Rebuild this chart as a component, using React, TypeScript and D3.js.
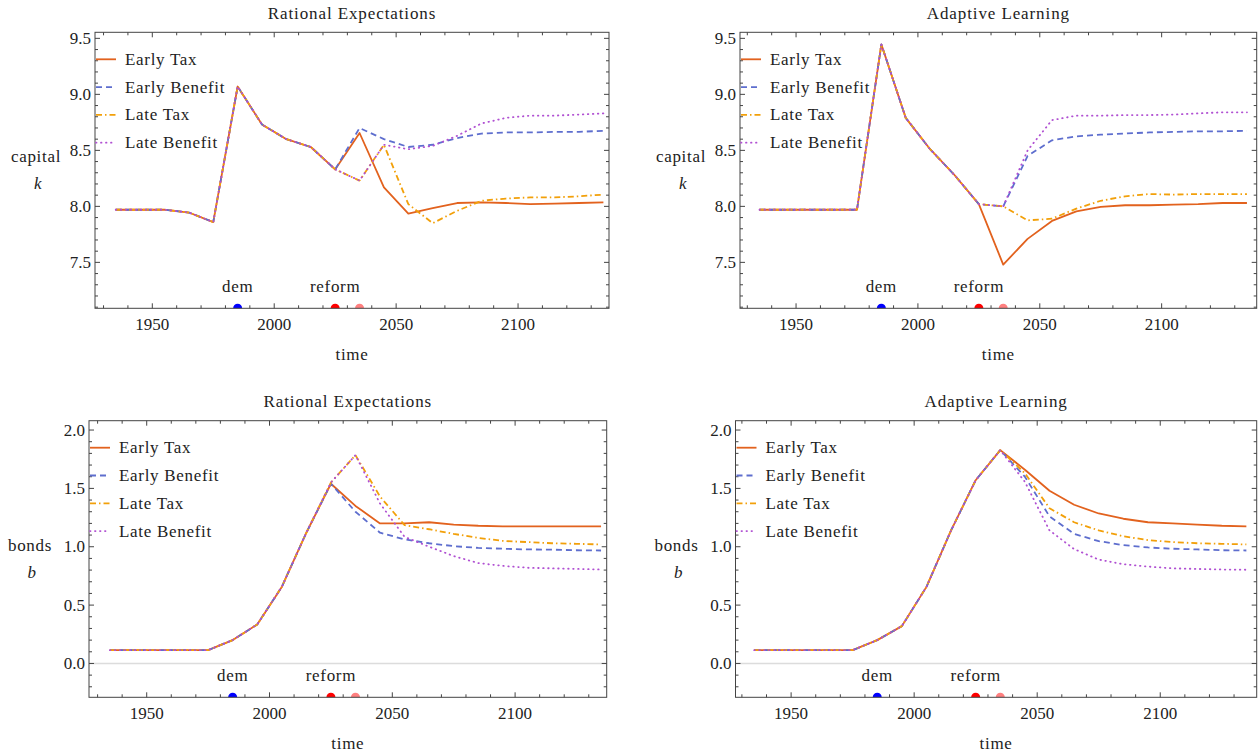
import React from 'react';
import * as d3 from 'd3';

// time points of the simulation
const years = [1935, 1945, 1955, 1965, 1975, 1985, 1995, 2005, 2015, 2025, 2035,
  2045, 2055, 2065, 2075, 2085, 2095, 2105, 2115, 2125, 2135];

// capital k, rational expectations
const reCapEarlyTax = [7.97, 7.97, 7.97, 7.945, 7.86, 9.07, 8.73, 8.6, 8.53, 8.33, 8.655,
  8.17, 7.935, 7.985, 8.03, 8.035, 8.03, 8.02, 8.025, 8.03, 8.035];
const reCapEarlyBenefit = [7.97, 7.97, 7.97, 7.945, 7.86, 9.07, 8.73, 8.6, 8.53, 8.33, 8.7,
  8.6, 8.53, 8.55, 8.61, 8.65, 8.66, 8.66, 8.665, 8.665, 8.675];
const reCapLateTax = [7.97, 7.97, 7.97, 7.945, 7.86, 9.07, 8.73, 8.6, 8.53, 8.33, 8.23,
  8.55, 8.02, 7.85, 7.96, 8.05, 8.07, 8.08, 8.08, 8.09, 8.105];
const reCapLateBenefit = [7.97, 7.97, 7.97, 7.945, 7.86, 9.07, 8.73, 8.6, 8.53, 8.33, 8.23,
  8.55, 8.51, 8.54, 8.63, 8.74, 8.79, 8.81, 8.81, 8.82, 8.83];

// capital k, adaptive learning
const alCapEarlyTax = [7.97, 7.97, 7.97, 7.97, 7.97, 9.446, 8.79, 8.51, 8.28, 8.02, 7.48,
  7.71, 7.87, 7.955, 7.995, 8.01, 8.01, 8.015, 8.02, 8.03, 8.03];
const alCapEarlyBenefit = [7.97, 7.97, 7.97, 7.97, 7.97, 9.446, 8.79, 8.51, 8.28, 8.02, 8.0,
  8.45, 8.59, 8.625, 8.64, 8.65, 8.66, 8.665, 8.67, 8.67, 8.675];
const alCapLateTax = [7.97, 7.97, 7.97, 7.97, 7.97, 9.446, 8.79, 8.51, 8.28, 8.02, 8.0,
  7.875, 7.89, 7.98, 8.05, 8.09, 8.11, 8.105, 8.11, 8.11, 8.11];
const alCapLateBenefit = [7.97, 7.97, 7.97, 7.97, 7.97, 9.446, 8.79, 8.51, 8.28, 8.02, 8.0,
  8.5, 8.77, 8.81, 8.81, 8.815, 8.815, 8.82, 8.83, 8.84, 8.84];

// bonds b, rational expectations
const reBondEarlyTax = [0.114, 0.114, 0.114, 0.114, 0.114, 0.2, 0.334, 0.656, 1.12, 1.54, 1.35,
  1.2, 1.2, 1.21, 1.19, 1.18, 1.175, 1.175, 1.175, 1.174, 1.174];
const reBondEarlyBenefit = [0.114, 0.114, 0.114, 0.114, 0.114, 0.2, 0.334, 0.656, 1.12, 1.54, 1.3,
  1.12, 1.063, 1.03, 1.005, 0.99, 0.983, 0.977, 0.975, 0.97, 0.968];
const reBondLateTax = [0.114, 0.114, 0.114, 0.114, 0.114, 0.2, 0.334, 0.656, 1.12, 1.55, 1.785,
  1.43, 1.185, 1.15, 1.11, 1.076, 1.05, 1.04, 1.03, 1.025, 1.02];
const reBondLateBenefit = [0.114, 0.114, 0.114, 0.114, 0.114, 0.2, 0.334, 0.656, 1.12, 1.55, 1.785,
  1.37, 1.085, 1.0, 0.92, 0.86, 0.836, 0.82, 0.815, 0.81, 0.805];

// bonds b, adaptive learning
const alBondEarlyTax = [0.114, 0.114, 0.114, 0.114, 0.114, 0.2, 0.32, 0.656, 1.14, 1.57, 1.828,
  1.66, 1.48, 1.36, 1.285, 1.24, 1.21, 1.2, 1.19, 1.18, 1.175];
const alBondEarlyBenefit = [0.114, 0.114, 0.114, 0.114, 0.114, 0.2, 0.32, 0.656, 1.14, 1.57, 1.828,
  1.6, 1.26, 1.11, 1.048, 1.014, 0.994, 0.983, 0.977, 0.97, 0.968];
const alBondLateTax = [0.114, 0.114, 0.114, 0.114, 0.114, 0.2, 0.32, 0.656, 1.14, 1.57, 1.828,
  1.63, 1.33, 1.21, 1.14, 1.09, 1.057, 1.04, 1.03, 1.025, 1.02];
const alBondLateBenefit = [0.114, 0.114, 0.114, 0.114, 0.114, 0.2, 0.32, 0.656, 1.14, 1.57, 1.828,
  1.556, 1.14, 0.98, 0.89, 0.85, 0.83, 0.815, 0.81, 0.805, 0.803];

const seriesNames = ['Early Tax', 'Early Benefit', 'Late Tax', 'Late Benefit'];
const xMajorTicks = [1950, 2000, 2050, 2100];
const capMajorTicks = [7.5, 8.0, 8.5, 9.0, 9.5];
const bondMajorTicks = [0.0, 0.5, 1.0, 1.5, 2.0];
const events = [
  { year: 1985, color: '#0000ff' },
  { year: 2025, color: '#ff0000' },
  { year: 2035, color: '#ff8080' },
];

const styles = [
  { color: '#e2621e', dash: undefined, cap: 'butt' },
  { color: '#5e6ece', dash: '6,4', cap: 'butt' },
  { color: '#f2a00a', dash: '6,3,1.5,3', cap: 'butt' },
  { color: '#b050d2', dash: '0.5,4.5', cap: 'round' },
];

const FONT = "'Liberation Serif', 'DejaVu Serif', serif";
const FRAME = '#444';

const Panel = ({ id, box, xDomain, yDomain, yMajor, title, ylab, yvar, series, zero }) => {
  const x = d3.scaleLinear().domain(xDomain).range([box.left, box.right]);
  const y = d3.scaleLinear().domain(yDomain).range([box.bottom, box.top]);
  const line = d3.line<number>().x((d, i) => x(years[i])).y((d) => y(d));
  const fmt = d3.format('.1f');

  const xMinor = d3.range(1930, 2140, 10).filter((v) => !xMajorTicks.includes(v));
  const yMinor = d3.range(Math.ceil(yDomain[0] * 10), Math.floor(yDomain[1] * 10) + 1)
    .map((v) => v / 10)
    .filter((v) => !yMajor.some((m) => Math.abs(m - v) < 1e-6));

  const midY = (box.top + box.bottom) / 2;
  const word = { style: { fontFamily: FONT, fontSize: '17px', letterSpacing: '0.7px' }, fill: '#222' };
  const head = { style: { fontFamily: FONT, fontSize: '17px', letterSpacing: '0.9px' }, fill: '#222' };
  const num = { style: { fontFamily: FONT, fontSize: '17px' }, fill: '#222' };

  return (
    <g>
      <defs>
        <clipPath id={id}>
          <rect x={box.left} y={box.top} width={box.right - box.left} height={box.bottom - box.top} />
        </clipPath>
      </defs>
      <text x={(box.left + box.right) / 2} y={box.top - 19} textAnchor="middle" dominantBaseline="central" {...head}>{title}</text>
      <text x={box.left - 59} y={midY - 14} textAnchor="middle" dominantBaseline="central" {...word}>{ylab}</text>
      <text x={box.left - 57} y={midY + 13} textAnchor="middle" dominantBaseline="central" {...word} fontStyle="italic">{yvar}</text>
      <text x={(box.left + box.right) / 2} y={box.bottom + 46} textAnchor="middle" dominantBaseline="central" {...word}>time</text>

      {zero && (
        <line x1={box.left} x2={box.right} y1={y(0)} y2={y(0)} stroke="#dcdcdc" strokeWidth={1.5} />
      )}

      <g clipPath={`url(#${id})`}>
        {series.map((s, i) => (
          <path key={i} d={line(s) || ''} fill="none" stroke={styles[i].color} strokeWidth={1.8}
            strokeDasharray={styles[i].dash} strokeLinecap={styles[i].cap} strokeLinejoin="round" />
        ))}
        {events.map((e) => (
          <circle key={e.year} cx={x(e.year)} cy={box.bottom} r={4.5} fill={e.color} />
        ))}
      </g>

      <text x={x(1985)} y={box.bottom - 22} textAnchor="middle" dominantBaseline="central" {...word}>dem</text>
      <text x={x(2025)} y={box.bottom - 22} textAnchor="middle" dominantBaseline="central" {...word}>reform</text>

      {/* frame */}
      <rect x={box.left} y={box.top} width={box.right - box.left} height={box.bottom - box.top} fill="none" stroke={FRAME} strokeWidth={1} />

      {/* x ticks, bottom and top */}
      {xMajorTicks.map((t) => (
        <g key={'xm' + t}>
          <line x1={x(t)} x2={x(t)} y1={box.bottom} y2={box.bottom - 5} stroke={FRAME} />
          <line x1={x(t)} x2={x(t)} y1={box.top} y2={box.top + 5} stroke={FRAME} />
          <text x={x(t)} y={box.bottom + 16} textAnchor="middle" dominantBaseline="central" {...num}>{t}</text>
        </g>
      ))}
      {xMinor.map((t) => (
        <g key={'xn' + t}>
          <line x1={x(t)} x2={x(t)} y1={box.bottom} y2={box.bottom - 3} stroke={FRAME} />
          <line x1={x(t)} x2={x(t)} y1={box.top} y2={box.top + 3} stroke={FRAME} />
        </g>
      ))}

      {/* y ticks, left and right */}
      {yMajor.map((t) => (
        <g key={'ym' + t}>
          <line x1={box.left} x2={box.left + 5} y1={y(t)} y2={y(t)} stroke={FRAME} />
          <line x1={box.right} x2={box.right - 5} y1={y(t)} y2={y(t)} stroke={FRAME} />
          <text x={box.left - 4} y={y(t)} textAnchor="end" dominantBaseline="central" {...num}>{fmt(t)}</text>
        </g>
      ))}
      {yMinor.map((t) => (
        <g key={'yn' + t}>
          <line x1={box.left} x2={box.left + 3} y1={y(t)} y2={y(t)} stroke={FRAME} />
          <line x1={box.right} x2={box.right - 3} y1={y(t)} y2={y(t)} stroke={FRAME} />
        </g>
      ))}

      {/* legend */}
      {seriesNames.map((name, i) => (
        <g key={name}>
          <line x1={box.left + 1} x2={box.left + 21} y1={box.top + 27 + i * 27.8} y2={box.top + 27 + i * 27.8}
            stroke={styles[i].color} strokeWidth={1.8} strokeDasharray={styles[i].dash} strokeLinecap={styles[i].cap} />
          <text x={box.left + 30} y={box.top + 27 + i * 27.8} dominantBaseline="central" {...word}>{name}</text>
        </g>
      ))}
    </g>
  );
};

export default function App() {
  const capDomain = [7.09, 9.554];
  const bondDomain = [-0.29, 2.08];
  return (
    <svg width={1259} height={752} style={{ position: 'absolute', left: 0, top: 0, background: '#fff' }}>
      <Panel id="p1" box={{ left: 95, right: 609, top: 32.3, bottom: 308.3 }} xDomain={[1926.5, 2137.3]}
        yDomain={capDomain} yMajor={capMajorTicks} title="Rational Expectations" ylab="capital" yvar="k"
        series={[reCapEarlyTax, reCapEarlyBenefit, reCapLateTax, reCapLateBenefit]} zero={false} />
      <Panel id="p2" box={{ left: 740, right: 1256.7, top: 32.3, bottom: 308.3 }} xDomain={[1927, 2139]}
        yDomain={capDomain} yMajor={capMajorTicks} title="Adaptive Learning" ylab="capital" yvar="k"
        series={[alCapEarlyTax, alCapEarlyBenefit, alCapLateTax, alCapLateBenefit]} zero={false} />
      <Panel id="p3" box={{ left: 89, right: 606.7, top: 420.7, bottom: 697.3 }} xDomain={[1926.5, 2137.3]}
        yDomain={bondDomain} yMajor={bondMajorTicks} title="Rational Expectations" ylab="bonds" yvar="b"
        series={[reBondEarlyTax, reBondEarlyBenefit, reBondLateTax, reBondLateBenefit]} zero={true} />
      <Panel id="p4" box={{ left: 735.5, right: 1256.7, top: 420.7, bottom: 697.3 }} xDomain={[1927.4, 2139.2]}
        yDomain={bondDomain} yMajor={bondMajorTicks} title="Adaptive Learning" ylab="bonds" yvar="b"
        series={[alBondEarlyTax, alBondEarlyBenefit, alBondLateTax, alBondLateBenefit]} zero={true} />
    </svg>
  );
}
